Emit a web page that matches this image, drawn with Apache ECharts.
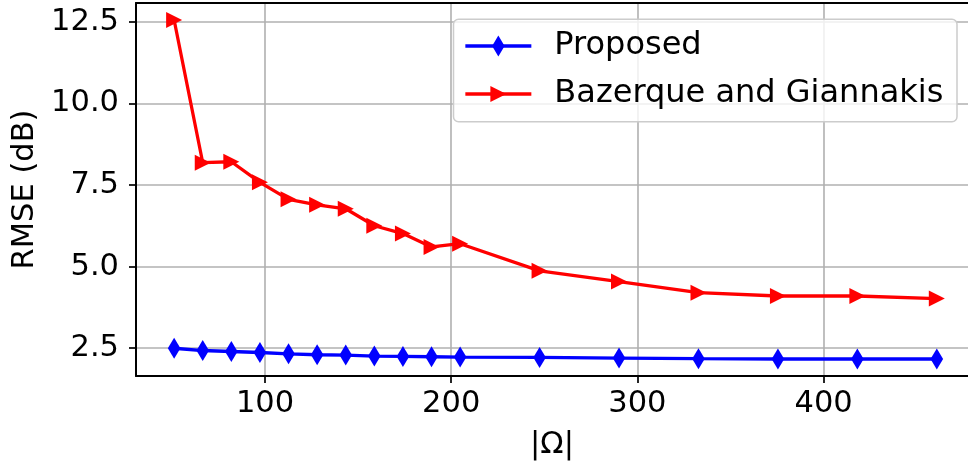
<!DOCTYPE html>
<html>
<head>
<meta charset="utf-8">
<script src="https://cdn.jsdelivr.net/npm/echarts@6/dist/echarts.min.js"></script>
<style>html,body{margin:0;padding:0;background:#fff;}#c{width:968px;height:466px;}</style>
</head>
<body>
<div id="c"></div>
<script>
const omega = [51.2, 66.56, 81.92, 97.28, 112.64, 128, 143.36, 158.72, 174.08, 189.44, 204.8, 247.47, 290.13, 332.8, 375.47, 418.13, 460.8];
const proposed = [2.50, 2.43, 2.40, 2.37, 2.33, 2.30, 2.29, 2.26, 2.25, 2.24, 2.23, 2.22, 2.20, 2.18, 2.17, 2.17, 2.17];
const bazerque = [12.55, 8.18, 8.21, 7.58, 7.06, 6.89, 6.77, 6.25, 6.01, 5.60, 5.70, 4.87, 4.54, 4.20, 4.10, 4.10, 4.02];
const xTicks = [100, 200, 300, 400];
const yTicks = [2.5, 5.0, 7.5, 10.0, 12.5];
const seriesNames = ['Proposed', 'Bazerque and Giannakis'];

const FONT = 'DejaVu Sans';
const FS = 30.5;
const LFS = 32;
const chart = echarts.init(document.getElementById('c'), null, {renderer: 'canvas'});
const pairs = ys => omega.map((x, i) => [x, ys[i]]);
// square bounding boxes so the legend keeps the marker proportions
const diamondPath = 'path://M-4,0 L-4,0 M16,0 L16,0 M6,0 L12,10 L6,20 L0,10 Z';
const triPath = 'path://M0,0 L15,7.5 L0,15 Z';

const axisCommon = {
  nameTextStyle: {fontFamily: FONT, fontSize: FS, color: '#000'},
  axisLine: {show: true, lineStyle: {color: '#000', width: 2}},
  splitLine: {show: true, lineStyle: {color: '#b0b0b0', width: 1.6}}
};

chart.setOption({
  animation: false,
  backgroundColor: '#fff',
  grid: {left: 136, top: 3, right: 0, height: 373.7, show: false},
  xAxis: [{
    type: 'value', min: 30.72, max: 477.55,
    name: '|Ω|', nameLocation: 'middle', nameGap: 54,
    ...axisCommon,
    axisTick: {show: true, length: 7, customValues: xTicks, lineStyle: {color: '#000', width: 1.7}},
    axisLabel: {customValues: xTicks, margin: 13, fontFamily: FONT, fontSize: FS, color: '#000', formatter: v => String(Math.round(v))}
  }, {
    type: 'value', position: 'top', min: 30.72, max: 477.55,
    axisLine: {show: true, onZero: false, lineStyle: {color: '#000', width: 2}},
    axisTick: {show: false}, axisLabel: {show: false}, splitLine: {show: false}
  }],
  yAxis: {
    type: 'value', min: 1.65, max: 13.07,
    name: 'RMSE (dB)', nameLocation: 'middle', nameGap: 95, nameRotate: 90,
    ...axisCommon,
    axisTick: {show: true, length: 7, customValues: yTicks, lineStyle: {color: '#000', width: 1.7}},
    axisLabel: {customValues: yTicks, margin: 17, fontFamily: FONT, fontSize: FS, color: '#000', formatter: v => v.toFixed(1)}
  },
  graphic: [{
    type: 'rect', z: 3, silent: true,
    shape: {x: 453.5, y: 19.3, width: 503.5, height: 102.4, r: 5},
    style: {fill: 'rgba(255,255,255,0.8)', stroke: '#cccccc', lineWidth: 1.5}
  }],
  legend: [
    {data: [seriesNames[0]], orient: 'vertical', left: 463.7, top: 30, padding: 0, z: 4,
     itemWidth: 66, itemHeight: 26, lineStyle: {width: 3.3},
     textStyle: {fontFamily: FONT, fontSize: LFS, color: '#000', padding: [0, 0, 0, 18]}},
    {data: [seriesNames[1]], orient: 'vertical', left: 463.7, top: 78, padding: 0, z: 4,
     itemWidth: 66, itemHeight: 20, lineStyle: {width: 3.3},
     textStyle: {fontFamily: FONT, fontSize: LFS, color: '#000', padding: [0, 0, 0, 18]}}
  ],
  series: [
    {name: seriesNames[0], type: 'line', data: pairs(proposed), symbol: diamondPath, symbolSize: 21,
     lineStyle: {color: '#0000ff', width: 3.3}, itemStyle: {color: '#0000ff'}, z: 2},
    {name: seriesNames[1], type: 'line', data: pairs(bazerque), symbol: triPath, symbolSize: 16,
     lineStyle: {color: '#ff0000', width: 3.3}, itemStyle: {color: '#ff0000'}, z: 2}
  ]
});
</script>
</body>
</html>
